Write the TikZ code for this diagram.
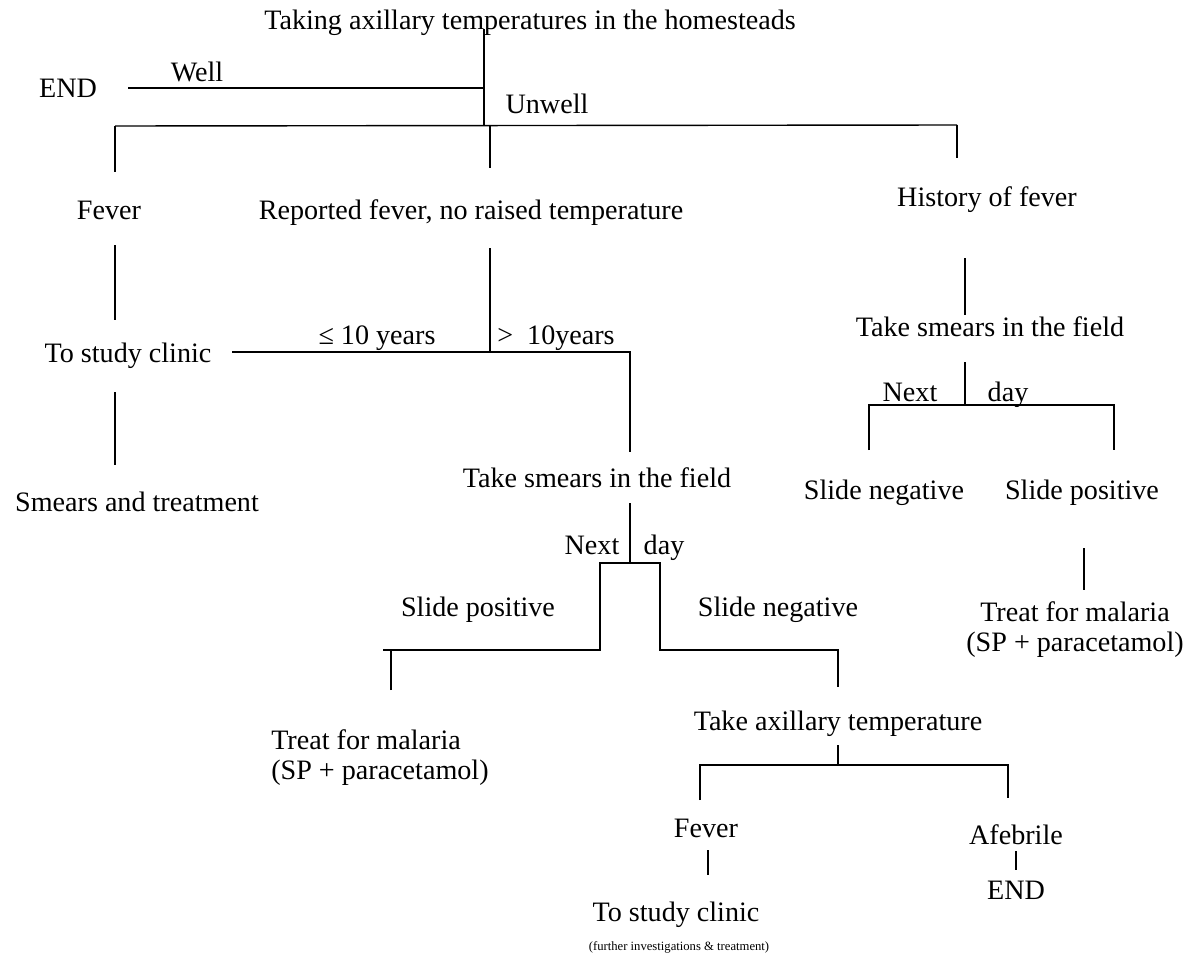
\documentclass[tikz,border=0pt]{standalone}
\usepackage{fontspec}
\setmainfont{Liberation Serif}
\begin{document}
\begin{tikzpicture}[x=0.025cm, y=-0.025cm,
        lbl/.style={font=\fontsize{20}{21}\selectfont, inner sep=0pt, anchor=base},
        two/.style={font=\fontsize{20}{21.3}\selectfont, inner sep=0pt},
        note/.style={font=\fontsize{9}{10}\selectfont, inner sep=0pt, anchor=base},
        link/.style={line width=1pt},
    ]
    \useasboundingbox (0,0) rectangle (1185,960);

    % homestead visit
    \node[lbl] (title) at (530,29) {Taking axillary temperatures in the homesteads};
    \node[lbl] (end1) at (68,97) {END};
    \node[lbl] (well) at (197,81) {Well};
    \node[lbl] (unwell) at (547,113) {Unwell};

    % three groups
    \node[lbl] (fever1) at (109,219) {Fever};
    \node[lbl] (reported) at (471,219) {Reported fever, no raised temperature};
    \node[lbl] (history) at (987,206) {History of fever};
    \node[lbl] (clinic1) at (128,362) {To study clinic};
    \node[lbl] (smearsL) at (137,511) {Smears and treatment};
    \node[lbl] (young) at (377,344) {≤ 10 years};
    \node[lbl, anchor=base west] (old) at (497,344) {>\ \ 10years};

    % history of fever branch
    \node[lbl] (smearsR) at (990,336) {Take smears in the field};
    \node[lbl] (nextR) at (910,401) {Next};
    \node[lbl] (dayR) at (1008,401) {day};
    \node[lbl] (negR) at (884,499) {Slide negative};
    \node[lbl] (posR) at (1082,499) {Slide positive};
    \node[two, align=center] (treatR) at (1075,630) {Treat for malaria\\(SP + paracetamol)};

    % older than 10 years branch
    \node[lbl] (smearsM) at (597,487) {Take smears in the field};
    \node[lbl] (nextM) at (592,554) {Next};
    \node[lbl] (dayM) at (664,554) {day};
    \node[lbl] (posM) at (478,616) {Slide positive};
    \node[lbl] (negM) at (778,616) {Slide negative};
    \node[two, align=left, anchor=west] (treatM) at (271,758) {Treat for malaria\\(SP + paracetamol)};
    \node[lbl] (axillary) at (838,730) {Take axillary temperature};
    \node[lbl] (fever2) at (706,837) {Fever};
    \node[lbl] (clinic2) at (676,921) {To study clinic};
    \node[note] (further) at (679,950) {(further investigations \& treatment)};
    \node[lbl] (afebrile) at (1016,844) {Afebrile};
    \node[lbl] (end2) at (1016,899) {END};

    % junction points
    \coordinate (root) at (484,125);
    \coordinate (well0) at (128,88);
    \coordinate (splitL) at (115,126);
    \coordinate (splitM) at (490,125);
    \coordinate (splitR) at (957,125);
    \coordinate (dropL) at (115,172);
    \coordinate (dropM) at (490,168);
    \coordinate (dropR) at (957,158);
    \coordinate (fev0) at (115,245);
    \coordinate (fev1) at (115,320);
    \coordinate (cli0) at (115,392);
    \coordinate (cli1) at (115,465);
    \coordinate (rep0) at (490,248);
    \coordinate (rep1) at (490,352);
    \coordinate (age0) at (232,352);
    \coordinate (age1) at (630,352);
    \coordinate (age2) at (630,452);
    \coordinate (his0) at (965,258);
    \coordinate (his1) at (965,315);
    \coordinate (smR0) at (965,362);
    \coordinate (smR1) at (965,405);
    \coordinate (nrL0) at (869,450);
    \coordinate (nrL1) at (869,405);
    \coordinate (nrR1) at (1114,405);
    \coordinate (nrR0) at (1114,450);
    \coordinate (posR0) at (1084,548);
    \coordinate (posR1) at (1084,590);
    \coordinate (smM0) at (630,503);
    \coordinate (smM1) at (630,563);
    \coordinate (trP0) at (391,690);
    \coordinate (trP1) at (391,650);
    \coordinate (trP2) at (383,650);
    \coordinate (stL0) at (600,650);
    \coordinate (stL1) at (600,563);
    \coordinate (stR1) at (660,563);
    \coordinate (stR0) at (660,650);
    \coordinate (ngM1) at (838,650);
    \coordinate (ngM0) at (838,687);
    \coordinate (ax0) at (838,745);
    \coordinate (ax1) at (838,765);
    \coordinate (fvL0) at (700,800);
    \coordinate (fvL1) at (700,765);
    \coordinate (afR1) at (1008,765);
    \coordinate (afR0) at (1008,798);
    \coordinate (fv0) at (708,850);
    \coordinate (fv1) at (708,875);
    \coordinate (af0) at (1016,851);
    \coordinate (af1) at (1016,870);

    % connectors
    \draw[link] (title.base -| root) -- (root);
    \draw[link] (well0) -- (well0 -| root);
    \draw[link] (splitL) -- (splitR);
    \draw[link] (splitL) -- (dropL);
    \draw[link] (splitM) -- (dropM);
    \draw[link] (splitR) -- (dropR);
    \draw[link] (fev0) -- (fev1);
    \draw[link] (cli0) -- (cli1);
    \draw[link] (rep0) -- (rep1);
    \draw[link] (age0) -- (age1) -- (age2);
    \draw[link] (his0) -- (his1);
    \draw[link] (smR0) -- (smR1);
    \draw[link] (nrL0) -- (nrL1) -- (nrR1) -- (nrR0);
    \draw[link] (posR0) -- (posR1);
    \draw[link] (smM0) -- (smM1);
    \draw[link] (trP0) -- (trP1);
    \draw[link] (trP2) -- (stL0) -- (stL1) -- (stR1) -- (stR0) -- (ngM1) -- (ngM0);
    \draw[link] (ax0) -- (ax1);
    \draw[link] (fvL0) -- (fvL1) -- (afR1) -- (afR0);
    \draw[link] (fv0) -- (fv1);
    \draw[link] (af0) -- (af1);
\end{tikzpicture}
\end{document}
